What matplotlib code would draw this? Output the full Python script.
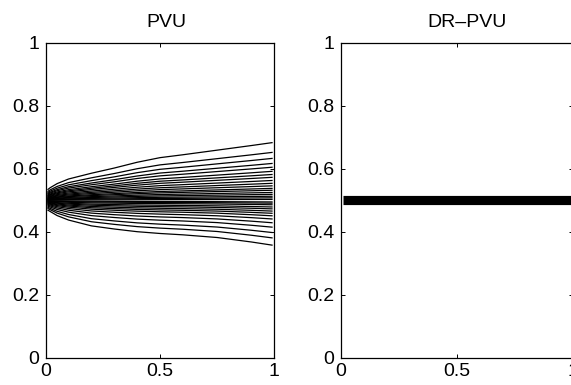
import numpy as np
import matplotlib
matplotlib.use("Agg")
import matplotlib.pyplot as plt

plt.rcParams['font.family'] = ['Liberation Sans', 'DejaVu Sans']
plt.rcParams['font.size'] = 14

# PVU contour lines: offsets from y=0.5 at x=1
upper_ends = [0.183, 0.152, 0.133, 0.117, 0.105, 0.092, 0.082, 0.073, 0.063,
              0.054, 0.046, 0.038, 0.032, 0.025, 0.019, 0.013, 0.008, 0.003]
lower_ends = [0.142, 0.119, 0.102, 0.085, 0.071, 0.059, 0.049, 0.041, 0.034,
              0.027, 0.021, 0.014, 0.009, 0.005]
centre = 0.5

# spread of the lines along x (fraction of the end offset)
x_pts = [0.01, 0.02, 0.05, 0.1, 0.2, 0.3, 0.4, 0.5, 0.6, 0.75, 0.9, 0.99]
upper_spread = [0.19, 0.22, 0.29, 0.37, 0.47, 0.56, 0.66, 0.74, 0.79, 0.87, 0.95, 1.0]
lower_spread = [0.22, 0.25, 0.34, 0.44, 0.57, 0.64, 0.70, 0.74, 0.77, 0.83, 0.93, 1.0]

# DR-PVU: all contours collapse onto one band
dr_x = [0.01, 0.99]
dr_level = 0.502

xticks = [0, 0.5, 1]
yticks = [0, 0.2, 0.4, 0.6, 0.8, 1]

fig = plt.figure(figsize=(5.71, 3.85), dpi=100)
W, H = 571, 385
ax1 = fig.add_axes([45.7 / W, 1 - 358 / H, 228.6 / W, 315.3 / H])
ax2 = fig.add_axes([340.7 / W, 1 - 358 / H, 232.5 / W, 315.3 / H])

for d in upper_ends:
    ax1.plot(x_pts, centre + d * np.array(upper_spread), color='black', lw=0.9)
for d in lower_ends:
    ax1.plot(x_pts, centre - d * np.array(lower_spread), color='black', lw=0.9)

ax2.plot(dr_x, [dr_level, dr_level], color='black', lw=6.6,
         solid_capstyle='butt')

for ax, title, tx in [(ax1, 'PVU', 0.529), (ax2, 'DR\u2013PVU', 0.542)]:
    ax.set_xlim(0, 1)
    ax.set_ylim(0, 1)
    ax.set_xticks(xticks)
    ax.set_xticklabels(['0', '0.5', '1'])
    ax.set_yticks(yticks)
    ax.set_yticklabels(['0', '0.2', '0.4', '0.6', '0.8', '1'])
    ax.tick_params(direction='in', top=True, right=True, length=3,
                   width=0.7, labelsize=14)
    ax.tick_params(axis='x', pad=3.5)
    ax.tick_params(axis='y', pad=4.5)
    for s in ax.spines.values():
        s.set_linewidth(0.9)
    ax.set_title(title, fontsize=14, x=tx, pad=11)

fig.savefig('out.png', dpi=100)
